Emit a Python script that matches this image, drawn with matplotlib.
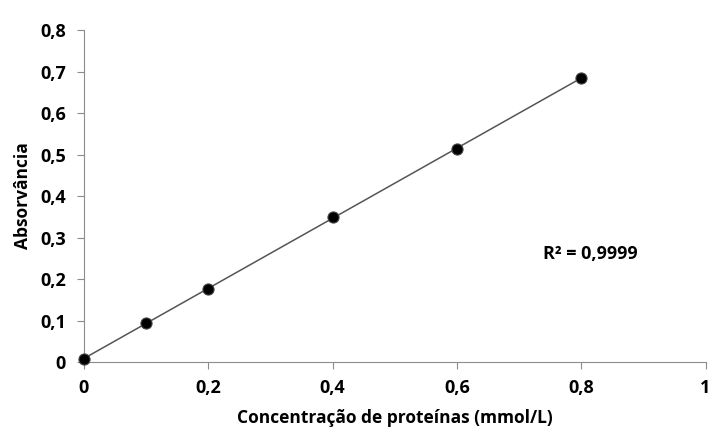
import numpy as np
import matplotlib.pyplot as plt

conc = [0, 0.1, 0.2, 0.4, 0.6, 0.8]
absorb = [0.008, 0.095, 0.175, 0.349, 0.513, 0.685]
xticks = [0, 0.2, 0.4, 0.6, 0.8, 1]
yticks = [0, 0.1, 0.2, 0.3, 0.4, 0.5, 0.6, 0.7, 0.8]

plt.rcParams['font.family'] = ['Open Sans', 'DejaVu Sans']

fig = plt.figure(figsize=(7.27, 4.46), dpi=100)
ax = fig.add_axes([0.1155, 0.1883, 0.855, 0.7444])

# linear trendline
m, b = np.polyfit(conc, absorb, 1)
xl = np.array([conc[0], conc[-1]])
ax.plot(xl, m * xl + b, color="#555555", lw=1.1, zorder=2)
ax.plot(conc, absorb, "o", color="black", markersize=8,
        markeredgecolor="#444444", markeredgewidth=0.8, zorder=3, clip_on=False)

ax.set_xlim(0, 1)
ax.set_ylim(0, 0.8)
ax.set_xticks(xticks)
ax.set_yticks(yticks)
fmt = lambda v: ("%g" % v).replace(".", ",")
ax.set_xticklabels([fmt(v) for v in xticks], fontsize=13, fontweight="bold")
ax.set_yticklabels([fmt(v) for v in yticks], fontsize=13, fontweight="bold")

for s in ["top", "right"]:
    ax.spines[s].set_visible(False)
for s in ["left", "bottom"]:
    ax.spines[s].set_color("#8c8c8c")
ax.tick_params(axis="both", colors="#8c8c8c", labelcolor="black", length=5, width=0.8)
ax.tick_params(axis="x", pad=7)
ax.tick_params(axis="y", pad=8)

ax.set_xlabel("Concentração de proteínas (mmol/L)", fontsize=12.5, fontweight="bold", labelpad=9)
ax.set_ylabel("Absorvância", fontsize=12.5, fontweight="bold", labelpad=6)

ax.text(0.814, 0.26, "R² = 0,9999", fontsize=13, fontweight="bold",
        ha="center", va="center")

fig.savefig("out.png", dpi=100)
